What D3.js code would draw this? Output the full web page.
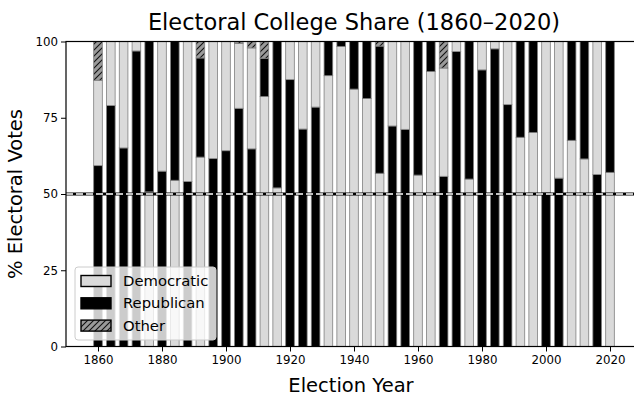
<!DOCTYPE html>
<html>
<head>
<meta charset="utf-8">
<script src="https://cdn.jsdelivr.net/npm/d3@7"></script>
<style>
  html, body { margin: 0; padding: 0; background: #fff; }
  svg { display: block; font-family: "DejaVu Sans", sans-serif; }
</style>
</head>
<body>
<svg id="chart" width="634" height="399"></svg>
<script>
// Election years, one bar each
const years = d3.range(1860, 2021, 4);

// Share of electoral votes (%) by party
const democratic = [28.0, 21.0, 34.9, 3.1, 50.7, 42.5, 54.5, 45.9, 62.1, 38.4,
  35.8, 21.3, 33.1, 82.0, 52.0, 12.5, 28.7, 21.5, 88.8, 98.4,
  84.4, 81.3, 56.8, 27.7, 28.8, 56.2, 90.2, 35.5, 3.3, 54.9,
  9.3, 2.4, 20.7, 68.6, 70.2, 49.6, 44.8, 67.6, 61.5, 43.6, 57.1];
const republican = [59.3, 79.0, 65.1, 96.9, 49.3, 57.5, 45.5, 54.1, 32.5, 61.6,
  64.2, 78.1, 64.8, 12.5, 48.0, 87.5, 71.3, 78.5, 11.2, 1.6,
  15.6, 18.7, 41.7, 72.3, 71.2, 43.8, 9.8, 55.8, 96.7, 45.1,
  90.7, 97.6, 79.3, 31.4, 29.8, 50.4, 55.2, 32.4, 38.5, 56.4, 42.9];
const other = [12.7, 0, 0, 0, 0, 0, 0, 0, 5.4, 0,
  0, 0.6, 2.1, 5.5, 0, 0, 0, 0, 0, 0,
  0, 0, 1.5, 0, 0, 0, 0, 8.7, 0, 0,
  0, 0, 0, 0, 0, 0, 0, 0, 0, 0, 0];
// Party stacked first (at the base) for each election
const baseParty = ["R","R","R","R","D","R","D","R","D","R",
  "R","R","R","D","D","R","R","R","D","D",
  "D","D","D","R","R","D","D","R","R","D",
  "R","R","R","D","D","R","R","D","D","R","D"];

const yTicks = [0, 25, 50, 75, 100];
const xTicks = d3.range(1860, 2021, 20);

const svg = d3.select("#chart");
const plotLeft = 66, plotRight = 634, plotTop = 41.5, plotBottom = 346.5;

const x = d3.scaleLinear().domain([1850, 2027.5]).range([plotLeft, plotRight]);
const y = d3.scaleLinear().domain([0, 100]).range([plotBottom, plotTop]);
const barW = x(2.7) - x(0);

// hatch pattern for "Other"
const defs = svg.append("defs");
const pat = defs.append("pattern")
  .attr("id", "hatch").attr("patternUnits", "userSpaceOnUse")
  .attr("width", 6).attr("height", 6);
pat.append("rect").attr("width", 6).attr("height", 6).attr("fill", "#9a9a9a");
pat.append("path").attr("d", "M-1,1 l2,-2 M0,6 l6,-6 M5,7 l2,-2")
  .attr("stroke", "#111").attr("stroke-width", 1.1);

const fills = { D: "#dadada", R: "#000000", O: "url(#hatch)" };

const clip = defs.append("clipPath").attr("id", "plotclip");
clip.append("rect").attr("x", plotLeft).attr("y", plotTop)
  .attr("width", plotRight - plotLeft + 10).attr("height", plotBottom - plotTop);

// segments: base party, the other major party, then others on top
const segments = [];
years.forEach((yr, i) => {
  const vals = { D: democratic[i], R: republican[i], O: other[i] };
  const order = baseParty[i] === "R" ? ["R", "D", "O"] : ["D", "R", "O"];
  let acc = 0;
  order.forEach(p => {
    const v = vals[p];
    if (v > 0) segments.push({ year: yr, party: p, y0: acc, y1: acc + v });
    acc += v;
  });
});

const plot = svg.append("g").attr("clip-path", "url(#plotclip)");
plot.selectAll("rect.bar").data(segments).join("rect")
  .attr("class", "bar")
  .attr("x", d => x(d.year) - barW / 2)
  .attr("width", barW)
  .attr("y", d => y(d.y1))
  .attr("height", d => y(d.y0) - y(d.y1))
  .attr("fill", d => fills[d.party])
  .attr("stroke", "#808080")
  .attr("stroke-width", 0.8);

// 50% majority reference line
plot.append("line")
  .attr("x1", plotLeft).attr("x2", plotRight + 10)
  .attr("y1", y(50)).attr("y2", y(50))
  .attr("stroke", "#000").attr("stroke-width", 3);
plot.append("line")
  .attr("x1", plotLeft).attr("x2", plotRight + 10)
  .attr("y1", y(50)).attr("y2", y(50))
  .attr("stroke", "#fff").attr("stroke-width", 1.4)
  .attr("stroke-dasharray", "7,3");

// axes
const yAxis = svg.append("g").attr("transform", `translate(${plotLeft},0)`)
  .call(d3.axisLeft(y).tickValues(yTicks).tickSize(5).tickPadding(3).tickFormat(d3.format("d")));
const xAxis = svg.append("g").attr("transform", `translate(0,${plotBottom})`)
  .call(d3.axisBottom(x).tickValues(xTicks).tickSize(5).tickPadding(4).tickFormat(d3.format("d")));
[yAxis, xAxis].forEach(g => {
  g.select(".domain").remove();
  g.selectAll("text").attr("font-size", 11.8).attr("fill", "#000")
    .attr("font-family", "DejaVu Sans, sans-serif");
  g.selectAll("line").attr("stroke", "#000").attr("stroke-width", 1);
});

// frame
svg.append("rect").attr("x", plotLeft).attr("y", plotTop)
  .attr("width", plotRight - plotLeft + 10).attr("height", plotBottom - plotTop)
  .attr("fill", "none").attr("stroke", "#000").attr("stroke-width", 1.2);

// legend
const legend = svg.append("g");
legend.append("rect").attr("x", 75).attr("y", 267).attr("width", 141).attr("height", 73)
  .attr("rx", 3).attr("fill", "#fff").attr("fill-opacity", 0.8)
  .attr("stroke", "#cccccc").attr("stroke-width", 1);
const legendItems = [
  { label: "Democratic", key: "D" },
  { label: "Republican", key: "R" },
  { label: "Other", key: "O" }
];
legendItems.forEach((it, i) => {
  const cy = 281 + i * 22.3;
  legend.append("rect").attr("x", 81).attr("y", cy - 5.5).attr("width", 30).attr("height", 11)
    .attr("fill", fills[it.key]).attr("stroke", "#000").attr("stroke-width", 1.4);
  legend.append("text").attr("x", 123).attr("y", cy).attr("dy", "0.35em")
    .attr("font-size", 14.8).attr("fill", "#000").text(it.label);
});

// titles
svg.append("text").attr("x", 354).attr("y", 22).attr("dy", "0.35em")
  .attr("text-anchor", "middle").attr("font-size", 22.5).attr("fill", "#000")
  .text("Electoral College Share (1860–2020)");
svg.append("text").attr("x", 351).attr("y", 385).attr("dy", "0.35em")
  .attr("text-anchor", "middle").attr("font-size", 19.5).attr("fill", "#000")
  .text("Election Year");
svg.append("text").attr("transform", `translate(15,${(plotTop + plotBottom) / 2}) rotate(-90)`)
  .attr("dy", "0.35em").attr("text-anchor", "middle").attr("font-size", 19.5).attr("fill", "#000")
  .text("% Electoral Votes");
</script>
</body>
</html>
